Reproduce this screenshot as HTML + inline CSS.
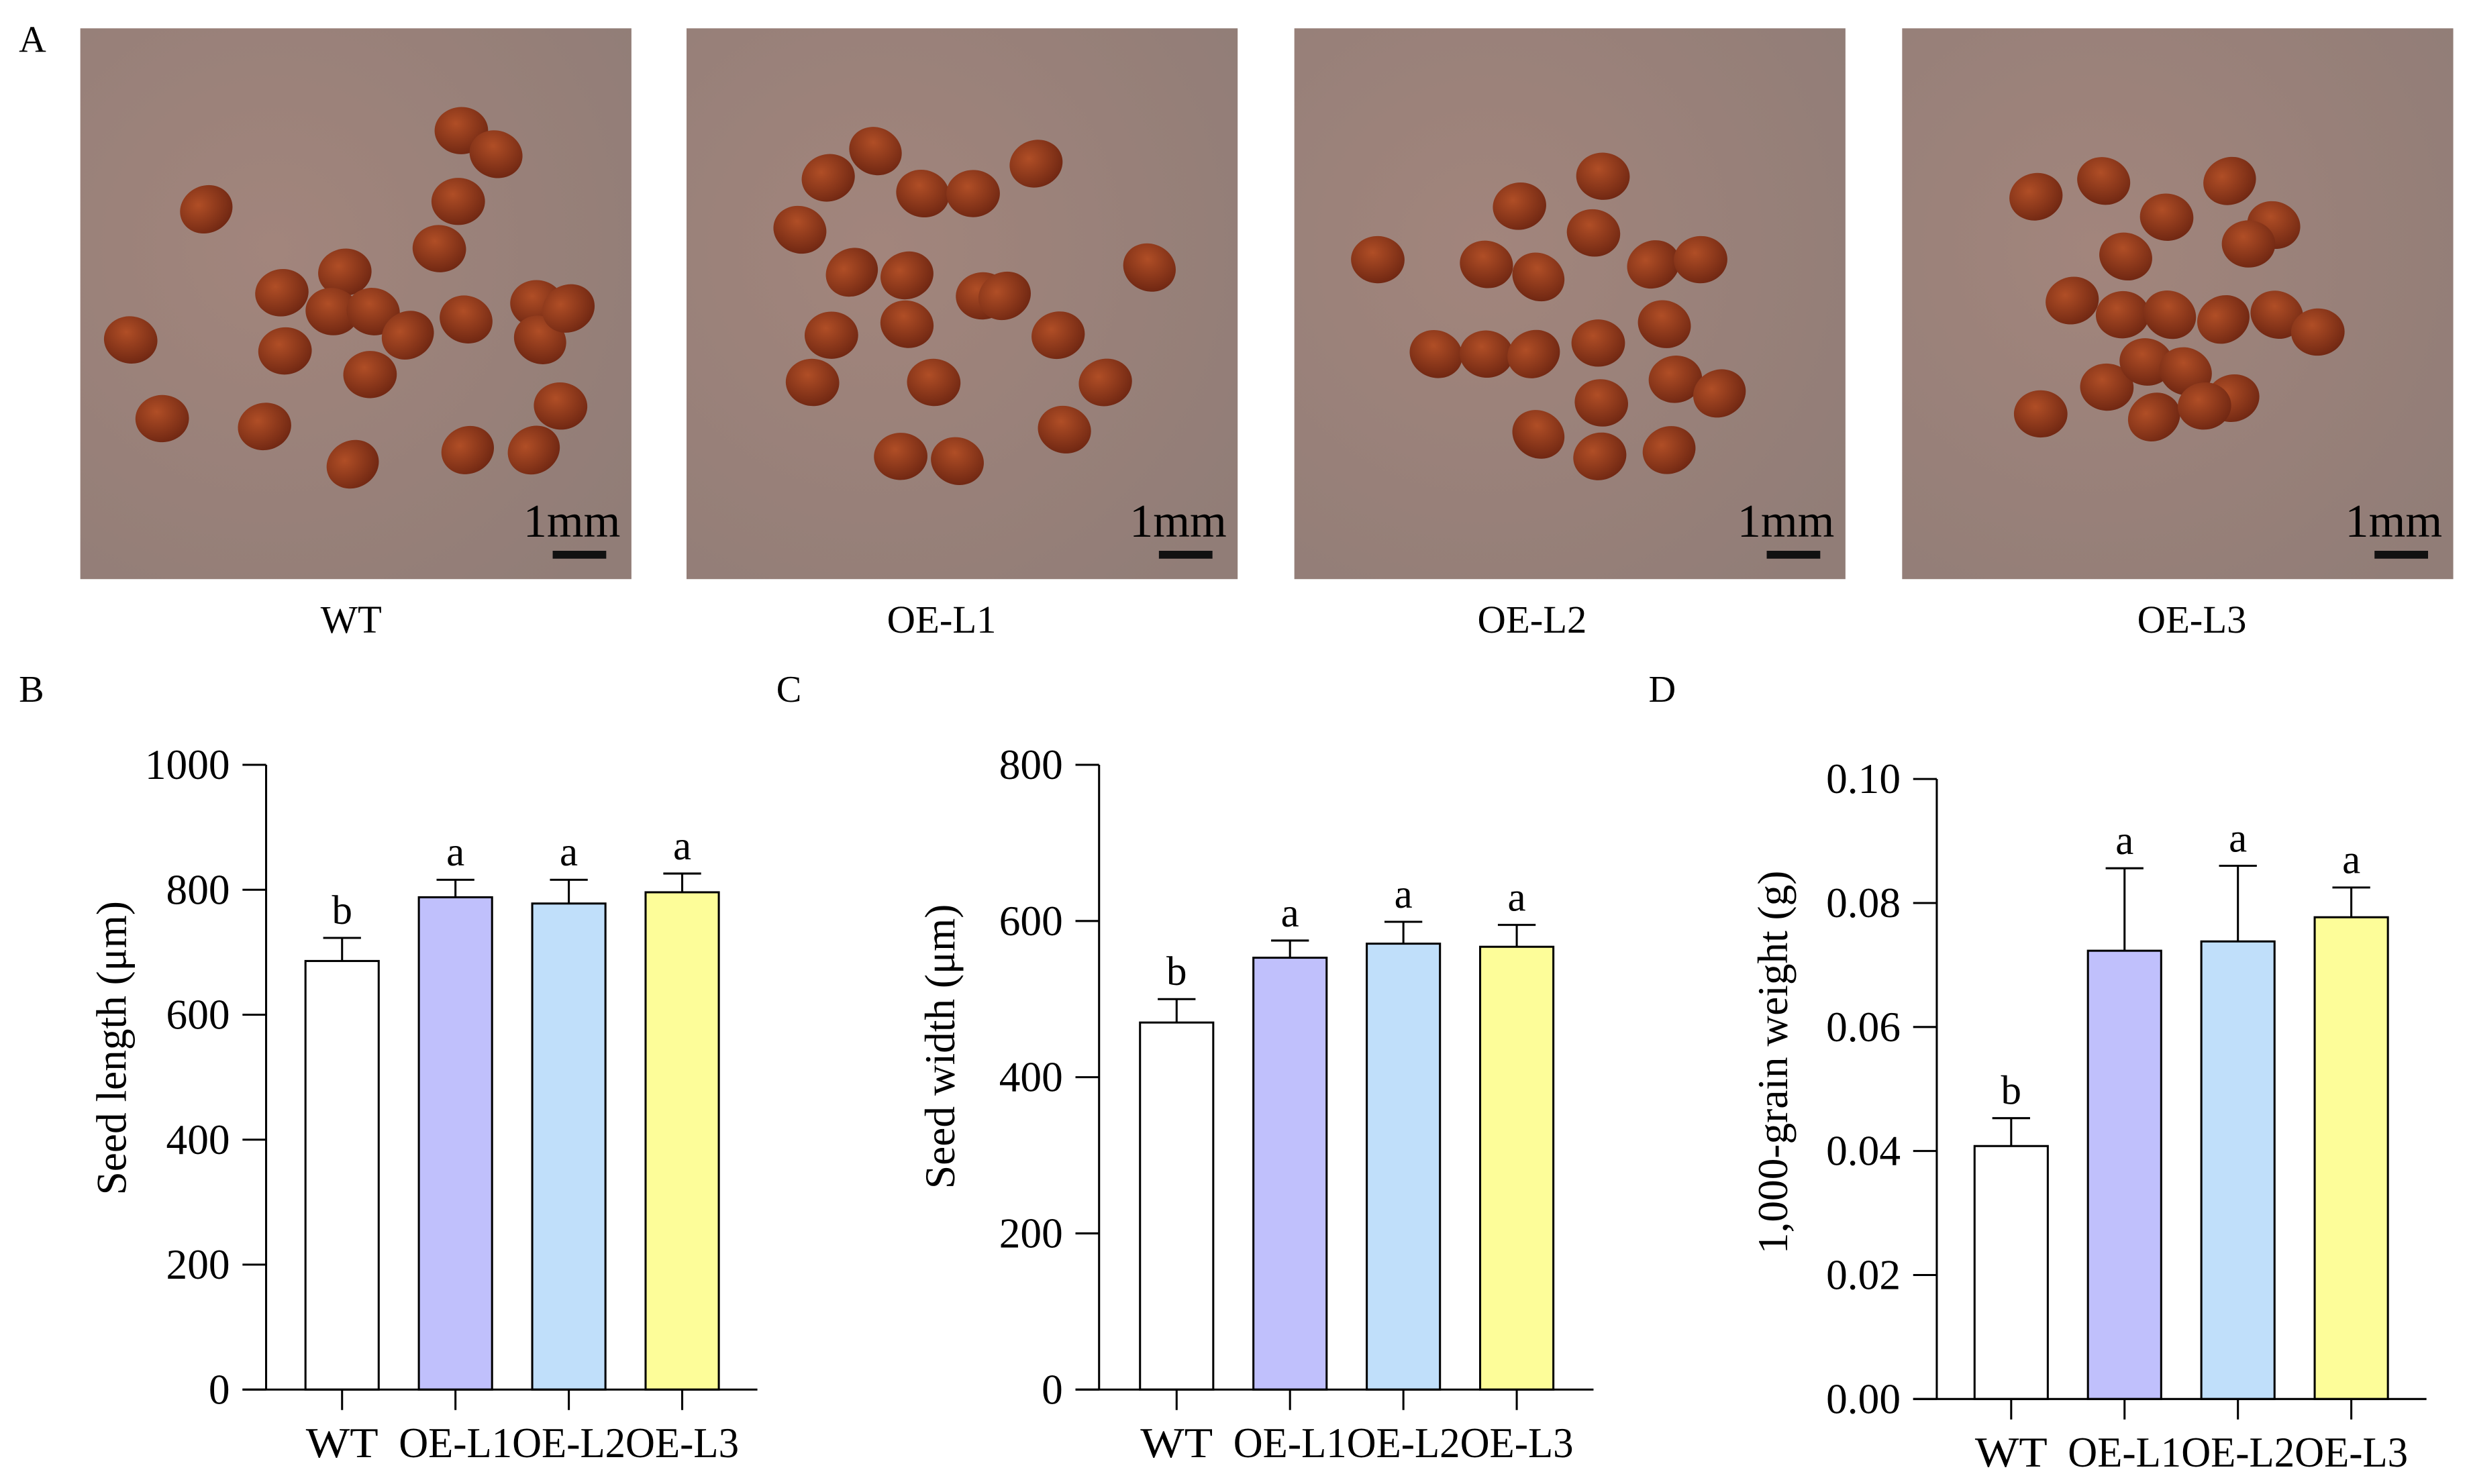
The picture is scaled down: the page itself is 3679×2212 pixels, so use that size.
<!DOCTYPE html>
<html><head><meta charset="utf-8"><style>
html,body{margin:0;padding:0;background:#fff}
svg{display:block}
text{font-family:"Liberation Serif",serif;fill:#000}
</style></head><body>
<svg id="fig" width="3679" height="2212" viewBox="0 0 1568 943" preserveAspectRatio="none" xmlns="http://www.w3.org/2000/svg">
<defs>
<radialGradient id="bg" cx="0.35" cy="0.4" r="0.8"><stop offset="0" stop-color="#a2857c"/><stop offset="1" stop-color="#917d77"/></radialGradient>
<radialGradient id="seed" cx="0.4" cy="0.35" r="0.7"><stop offset="0" stop-color="#b04e26"/><stop offset="1" stop-color="#6e2612"/></radialGradient>
</defs>
<g font-size="24">
<text x="12" y="33">A</text>
<text x="12" y="446">B</text>
<text x="493" y="446">C</text>
<text x="1047" y="446">D</text>
</g>
<g id="photos"></g>
<g id="charts"></g>
</svg>
<script>
const NS="http://www.w3.org/2000/svg";
function mk(tag,attrs,parent,txt){const e=document.createElementNS(NS,tag);for(const k in attrs)e.setAttribute(k,attrs[k]);if(txt!==undefined)e.textContent=txt;parent.appendChild(e);return e;}

// ---------- Photo panels ----------
const photoX=[51,436,822,1208];
const photoLabels=["WT","OE-L1","OE-L2","OE-L3"];
const photoLabelX=[223,598,973,1392];
const seedSets=[
 [[80,115],[242,65],[264,80],[240,110],[228,140],[168,155],[128,168],[160,180],[186,180],[208,195],[245,185],[290,175],[292,198],[310,178],[32,198],[184,220],[52,248],[117,253],[173,277],[246,268],[288,268],[305,240],[130,205]],
 [[90,95],[120,78],[150,105],[182,105],[222,86],[72,128],[105,155],[140,157],[188,170],[92,195],[140,188],[236,195],[266,225],[294,152],[80,225],[157,225],[240,255],[136,272],[172,275],[202,170]],
 [[53,147],[143,113],[196,94],[122,150],[155,158],[190,130],[228,150],[258,147],[90,207],[122,207],[152,207],[193,200],[235,188],[242,223],[270,232],[195,238],[155,258],[194,272],[238,268]],
 [[85,107],[128,97],[168,120],[208,97],[236,125],[142,145],[220,137],[108,173],[140,182],[170,182],[204,185],[238,182],[264,193],[130,228],[155,212],[180,218],[210,235],[160,247],[192,240],[88,245]]
];
const photos=document.getElementById('photos');
photoX.forEach((px,i)=>{
 const g=mk('g',{transform:`translate(${px},18)`},photos);
 
 
 mk('rect',{x:0,y:0,width:350,height:350,fill:'url(#bg)'},g);
 seedSets[i].forEach(s=>{
  const el=mk('ellipse',{cx:s[0],cy:s[1],rx:17,ry:15,fill:'url(#seed)',transform:`rotate(${(s[0]*7+s[1]*3)%60-30} ${s[0]} ${s[1]})`},g);
  
  
 });
 const t=mk('text',{x:343,y:323,'font-size':30,'text-anchor':'end',fill:'#111'},g,'1mm');
 
 
 const b=mk('rect',{x:300,y:332,width:34,height:5,fill:'#111'},g);
 
 
 const l=mk('text',{x:photoLabelX[i],y:402,'font-size':25,'text-anchor':'middle'},photos,photoLabels[i]);
 
 
});

// ---------- Chart data ----------
const categories=["WT","OE-L1","OE-L2","OE-L3"];
const barColors=["#ffffff","#c0c0fc","#c0dffa","#fdfd99"];
const lengthMeans=[686,788,778,796];
const lengthErrs=[37,28,38,30];
const lengthLetters=["b","a","a","a"];
const lengthTicks=[0,200,400,600,800,1000];
const widthMeans=[470,553,571,567];
const widthErrs=[30,22,28,28];
const widthLetters=["b","a","a","a"];
const widthTicks=[0,200,400,600,800];
const weightMeans=[0.0408,0.0723,0.0738,0.0777];
const weightErrs=[0.0045,0.0133,0.0122,0.0048];
const weightLetters=["b","a","a","a"];
const weightTicks=[0,0.02,0.04,0.06,0.08,0.10];

const charts=document.getElementById('charts');
function drawChart(o){
 const g=mk('g',{},charts);
 
 
 const max=o.ticks[o.ticks.length-1];
 const y=v=>o.y0-(v/max)*(o.y0-o.yTop);
 const barW=46.5, step=72;
 const xc=i=>o.firstBar+barW/2+i*step;
 o.means.forEach((m,i)=>{
  const top=y(m), et=y(m+o.errs[i]);
  const eb=mk('line',{x1:xc(i),x2:xc(i),y1:top,y2:et,stroke:'#000','stroke-width':1.3},g);
  
  
  mk('line',{x1:xc(i)-12,x2:xc(i)+12,y1:et,y2:et,stroke:'#000','stroke-width':1.3},g);
  const r=mk('rect',{x:xc(i)-barW/2,y:top,width:barW,height:o.y0-top,fill:barColors[i],stroke:'#000','stroke-width':1.3},g);
  
  
  const lt=mk('text',{x:xc(i),y:et-9,'font-size':26,'text-anchor':'middle'},g,o.letters[i]);
  
  
  mk('line',{x1:xc(i),x2:xc(i),y1:o.y0,y2:o.y0+13,stroke:'#000','stroke-width':1.3},g);
  const cl=mk('text',{x:xc(i),y:o.y0+43,'font-size':27,'text-anchor':'middle',textLength:i?72:46,lengthAdjust:'spacingAndGlyphs'},g,categories[i]);
  
  
 });
 const ya=mk('line',{x1:o.ax,x2:o.ax,y1:o.yTop,y2:o.y0,stroke:'#000','stroke-width':1.3},g);
 
 
 const xa=mk('line',{x1:o.ax-15,x2:o.xEnd,y1:o.y0,y2:o.y0,stroke:'#000','stroke-width':1.3},g);
 
 
 o.ticks.forEach(t=>{
  mk('line',{x1:o.ax-15,x2:o.ax,y1:y(t),y2:y(t),stroke:'#000','stroke-width':1.3},g);
  const tl=mk('text',{x:o.ax-23,y:y(t)+9,'font-size':27,'text-anchor':'end'},g,o.fmt(t));
  
  
 });
 const tt=mk('text',{x:0,y:0,'font-size':27,'text-anchor':'middle',transform:`translate(${o.titleX},${o.titleY}) rotate(-90)`},g,o.title);
 
 
}
drawChart({name:'seed-length-chart',means:lengthMeans,errs:lengthErrs,letters:lengthLetters,ticks:lengthTicks,fmt:t=>String(t),ax:169,yTop:486,y0:883,xEnd:481,firstBar:194,title:'Seed length (μm)',titleX:80,titleY:666});
drawChart({name:'seed-width-chart',means:widthMeans,errs:widthErrs,letters:widthLetters,ticks:widthTicks,fmt:t=>String(t),ax:698,yTop:486,y0:883,xEnd:1012,firstBar:724,title:'Seed width (μm)',titleX:606,titleY:665});
drawChart({name:'grain-weight-chart',means:weightMeans,errs:weightErrs,letters:weightLetters,ticks:weightTicks,fmt:t=>t.toFixed(2),ax:1230,yTop:495,y0:889,xEnd:1541,firstBar:1254,title:'1,000-grain weight (g)',titleX:1135,titleY:675});
</script>
</body></html>
